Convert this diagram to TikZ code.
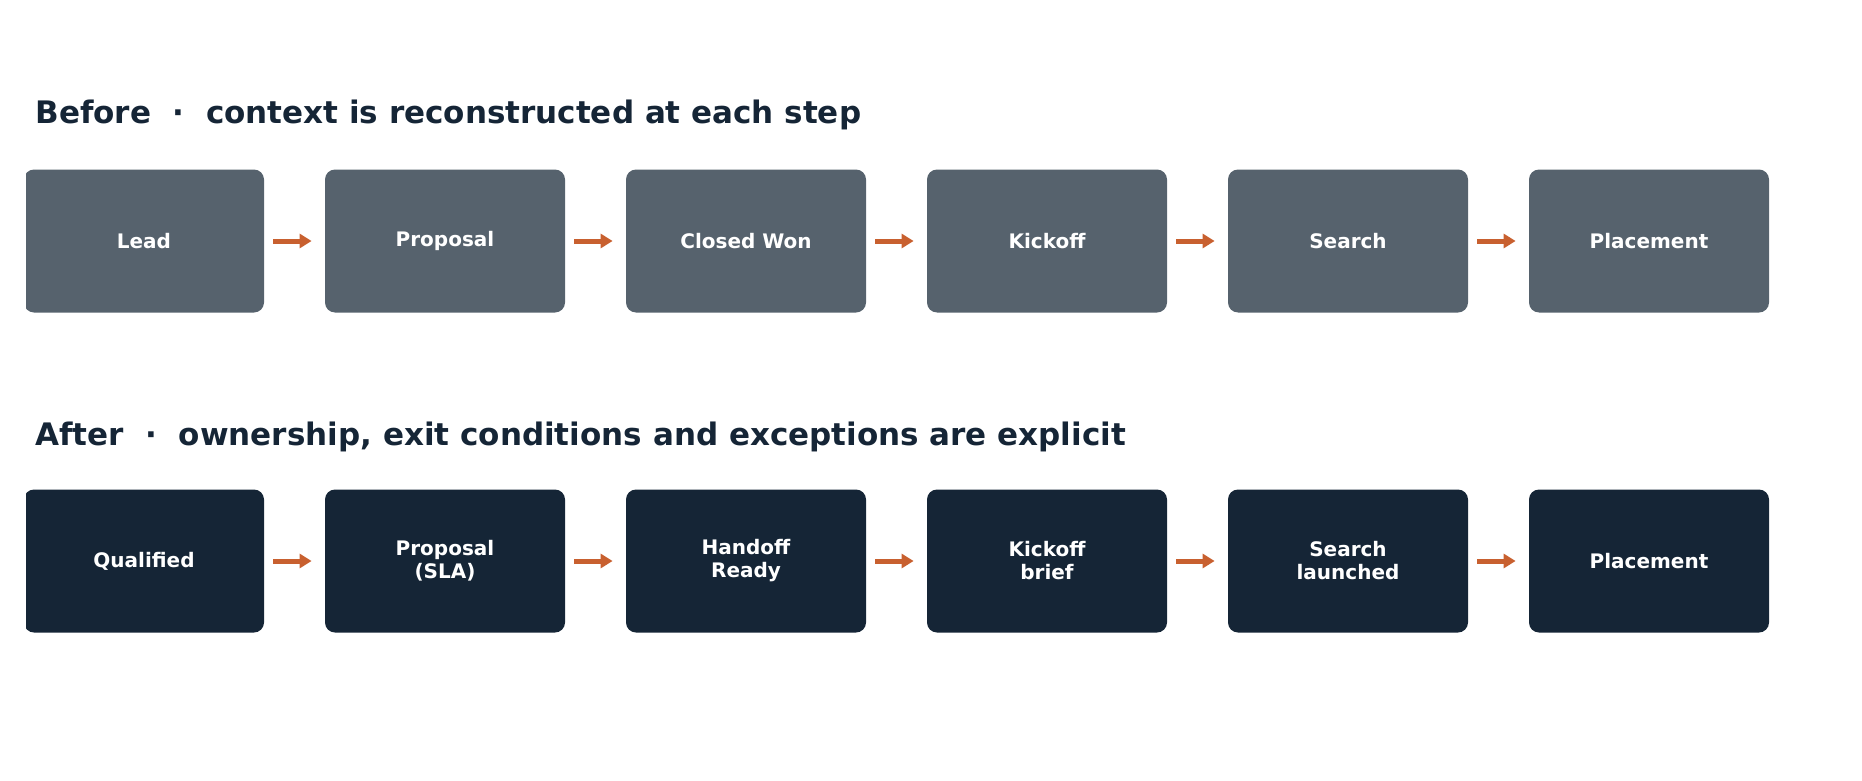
\documentclass[tikz,border=0pt]{standalone}
\usepackage{fontspec}
\setmainfont{DejaVu Sans}
\usetikzlibrary{positioning,arrows.meta}
\definecolor{oldgray}{HTML}{56626D}
\definecolor{newnavy}{HTML}{152536}
\definecolor{flow}{HTML}{C8602F}
\tikzset{stage/.style={rectangle,rounded corners=5pt,minimum width=120pt,minimum height=71.5pt,
    text=white,font=\bfseries\fontsize{10}{11.5}\selectfont,align=center,inner sep=0pt},
  oldstage/.style={stage,fill=oldgray},
  newstage/.style={stage,fill=newnavy},
  headline/.style={anchor=base west,text=newnavy,font=\bfseries\fontsize{15.5}{18}\selectfont,inner sep=0pt},
  step arrow/.style={-{Triangle[length=6pt,width=7pt]},line width=2.5pt,flow,shorten <=4.5pt,shorten >=6.5pt}}
\begin{document}
\begin{tikzpicture}[x=0.5pt,y=-0.5pt]
  \useasboundingbox (0,0) rectangle (1862,781);
  \node[headline] (before) at (35,124) {Before \ ·\ \ context is reconstructed at each step};
  \node[headline] (after) at (35,445) {After \ ·\ \ ownership, exit conditions and exceptions are explicit};
  \begin{scope}
    \clip (26,0) rectangle (1862,781);
    \foreach \name [count=\i] in {Lead,Proposal,Closed Won,Kickoff,Search,Placement}
      \node[oldstage] (o\i) at ({144+(\i-1)*301},241) {\name};
    \foreach \name [count=\i] in {Qualified,Proposal\\(SLA),Handoff\\Ready,Kickoff\\brief,Search\\launched,Placement}
      \node[newstage] (n\i) at ({144+(\i-1)*301},561) {\name};
  \end{scope}
  \foreach \i [evaluate=\i as \j using int(\i+1)] in {1,...,5} {
    \draw[step arrow] (o\i) -- (o\j);
    \draw[step arrow] (n\i) -- (n\j);
  }
\end{tikzpicture}
\end{document}
